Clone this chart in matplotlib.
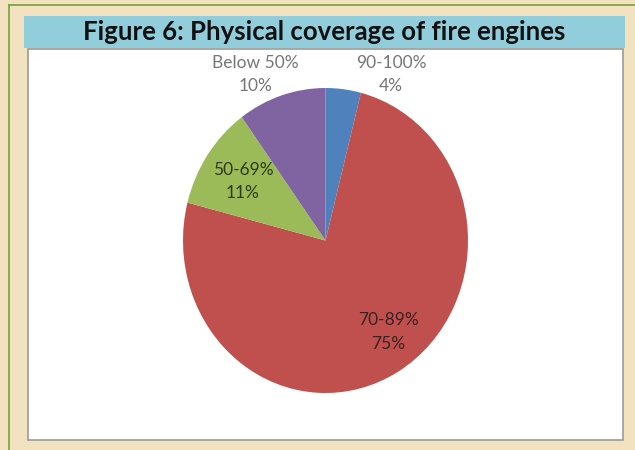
import matplotlib.pyplot as plt
from matplotlib.patches import Rectangle
from matplotlib.lines import Line2D

# Coverage bands of fire engines and their share
categories = ["90-100%", "70-89%", "50-69%", "Below 50%"]
shares = [4, 75, 11, 10]
colors = ["#4F81BD", "#C0504D", "#9BBB59", "#8064A2"]
title = "Figure 6: Physical coverage of fire engines"

W, H = 635, 450
fig = plt.figure(figsize=(W / 100, H / 100), dpi=100)
fig.patch.set_facecolor("#F2E2BF")

def px(x0, y0, x1, y1):
    """Figure-fraction rect from pixel box (top-left origin)."""
    return [x0 / W, 1 - y1 / H, (x1 - x0) / W, (y1 - y0) / H]

# Outer green frame lines
fig.add_artist(Line2D([9 / W, 9 / W], [0, 1 - 5 / H], color="#77A13A", lw=1.2, zorder=-2))
fig.add_artist(Line2D([9 / W, 1], [1 - 5 / H, 1 - 5 / H], color="#77A13A", lw=1.2, zorder=-2))

# White chart panel with grey edge
x0, y0, x1, y1 = 28, 49, 623, 440
fig.add_artist(Rectangle((x0 / W, 1 - y1 / H), (x1 - x0) / W, (y1 - y0) / H,
                         transform=fig.transFigure, facecolor="white",
                         edgecolor="#9A9A9A", lw=1.2, zorder=-2))

# Title banner
bx0, by0, bx1, by1 = 24, 16, 625, 48
fig.add_artist(Rectangle((bx0 / W, 1 - by1 / H), (bx1 - bx0) / W, (by1 - by0) / H,
                         transform=fig.transFigure, facecolor="#92CDDC",
                         edgecolor="none", zorder=-1))
fig.text((bx0 + bx1) / 2 / W, 1 - (by0 + by1) / 2 / H, title,
         ha="center", va="center", fontsize=18.5, fontweight="bold",
         family="Lato", color="#111111")

# Pie
ax = fig.add_axes(px(183, 88, 468, 393))
ax.set_zorder(2)
wedges, _ = ax.pie(shares, colors=colors, startangle=90, counterclock=False,
                   wedgeprops=dict(linewidth=0))
ax.set_aspect("auto")
ax.set_xlim(-1, 1)
ax.set_ylim(-1, 1)
ax.axis("off")

label_pos = {
    "90-100%": (0.46, 1.09, "#767676"),
    "70-89%": (0.44, -0.60, "#3A2222"),
    "50-69%": (-0.58, 0.385, "#2E3A1A"),
    "Below 50%": (-0.49, 1.09, "#767676"),
}
for cat, val in zip(categories, shares):
    lx, ly, c = label_pos[cat]
    ax.text(lx, ly, f"{cat}\n{val}%", ha="center", va="center",
            fontsize=12.5, family="Lato", color=c, linespacing=1.55,
            clip_on=False)

fig.savefig("out.png", dpi=100, facecolor=fig.get_facecolor())
